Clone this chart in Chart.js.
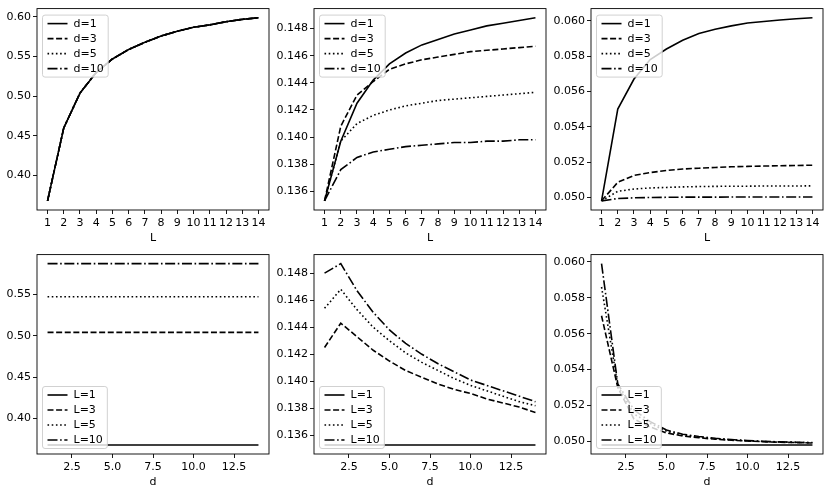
<!DOCTYPE html>
<html>
<head>
<meta charset="utf-8">
<script src="https://cdn.jsdelivr.net/npm/chart.js@4.4.1/dist/chart.umd.min.js"></script>
<style>
  body { margin: 0; background: #fff; }
  #fig { position: relative; width: 830px; height: 492px; overflow: hidden; background: #fff; }
  #fig canvas { position: absolute; }
</style>
</head>
<body>
<div id="fig"></div>
<script>
// x values (same for both rows)
const Ls = [1, 2, 3, 4, 5, 6, 7, 8, 9, 10, 11, 12, 13, 14];
const ds = [1, 2, 3, 4, 5, 6, 7, 8, 9, 10, 11, 12, 13, 14];

const dLabels = ['d=1', 'd=3', 'd=5', 'd=10'];
const LLabels = ['L=1', 'L=3', 'L=5', 'L=10'];

// x tick labels
const xTicksL = [1, 2, 3, 4, 5, 6, 7, 8, 9, 10, 11, 12, 13, 14];
const xTicksD = [2.5, 5.0, 7.5, 10.0, 12.5];

// top-left: every d gives the same curve
const tlCurve = [0.368, 0.460, 0.504, 0.530, 0.547, 0.559, 0.568, 0.576, 0.582, 0.587, 0.590, 0.594, 0.597, 0.599];
const tlTicks = [0.40, 0.45, 0.50, 0.55, 0.60];

// top-middle
const tm_d1 = [0.1353, 0.1397, 0.1425, 0.1442, 0.1454, 0.1462, 0.1468, 0.1472, 0.1476, 0.1479, 0.1482, 0.1484, 0.1486, 0.1488];
const tm_d3 = [0.1353, 0.1408, 0.1431, 0.1441, 0.1450, 0.1454, 0.1457, 0.1459, 0.1461, 0.1463, 0.1464, 0.1465, 0.1466, 0.1467];
const tm_d5 = [0.1353, 0.1397, 0.1410, 0.1416, 0.1420, 0.1423, 0.1425, 0.1427, 0.1428, 0.1429, 0.1430, 0.1431, 0.1432, 0.1433];
const tm_d10 = [0.1353, 0.1376, 0.1385, 0.1389, 0.1391, 0.1393, 0.1394, 0.1395, 0.1396, 0.1396, 0.1397, 0.1397, 0.1398, 0.1398];
const midTicks = [0.136, 0.138, 0.140, 0.142, 0.144, 0.146, 0.148];

// top-right
const tr_d1 = [0.0498, 0.0550, 0.0567, 0.0578, 0.0584, 0.0589, 0.05928, 0.05952, 0.05971, 0.05987, 0.05996, 0.06004, 0.06011, 0.06017];
const tr_d3 = [0.0498, 0.05085, 0.05124, 0.0514, 0.05152, 0.0516, 0.05165, 0.05169, 0.05173, 0.05175, 0.05177, 0.05179, 0.0518, 0.05182];
const tr_d5 = [0.0498, 0.05034, 0.05047, 0.05053, 0.05056, 0.05059, 0.05061, 0.05062, 0.05063, 0.05063, 0.05064, 0.05064, 0.05064, 0.05065];
const tr_d10 = [0.0498, 0.04993, 0.04997, 0.04999, 0.05, 0.05001, 0.05001, 0.05001, 0.05002, 0.05002, 0.05002, 0.05002, 0.05002, 0.05002];
const rightTicks = [0.050, 0.052, 0.054, 0.056, 0.058, 0.060];

// bottom-left: flat in d
const bl_L1 = [0.368, 0.368, 0.368, 0.368, 0.368, 0.368, 0.368, 0.368, 0.368, 0.368, 0.368, 0.368, 0.368, 0.368];
const bl_L3 = [0.504, 0.504, 0.504, 0.504, 0.504, 0.504, 0.504, 0.504, 0.504, 0.504, 0.504, 0.504, 0.504, 0.504];
const bl_L5 = [0.547, 0.547, 0.547, 0.547, 0.547, 0.547, 0.547, 0.547, 0.547, 0.547, 0.547, 0.547, 0.547, 0.547];
const bl_L10 = [0.587, 0.587, 0.587, 0.587, 0.587, 0.587, 0.587, 0.587, 0.587, 0.587, 0.587, 0.587, 0.587, 0.587];
const blTicks = [0.40, 0.45, 0.50, 0.55];

// bottom-middle
const bm_L1 = [0.1353, 0.1353, 0.1353, 0.1353, 0.1353, 0.1353, 0.1353, 0.1353, 0.1353, 0.1353, 0.1353, 0.1353, 0.1353, 0.1353];
const bm_L3 = [0.1425, 0.1443, 0.1433, 0.1423, 0.1415, 0.1408, 0.1403, 0.1398, 0.1394, 0.1391, 0.1387, 0.1384, 0.1381, 0.1377];
const bm_L5 = [0.1454, 0.1468, 0.1453, 0.1440, 0.1430, 0.1421, 0.1414, 0.1408, 0.1402, 0.1397, 0.1393, 0.1389, 0.1385, 0.1382];
const bm_L10 = [0.1480, 0.1487, 0.1467, 0.1451, 0.1438, 0.1428, 0.1420, 0.1413, 0.1407, 0.1401, 0.1397, 0.1393, 0.1389, 0.1385];

// bottom-right
const br_L1 = [0.0498, 0.0498, 0.0498, 0.0498, 0.0498, 0.0498, 0.0498, 0.0498, 0.0498, 0.0498, 0.0498, 0.0498, 0.0498, 0.0498];
const br_L3 = [0.0570, 0.0530, 0.05124, 0.0508, 0.05047, 0.0503, 0.0502, 0.05012, 0.05006, 0.05002, 0.04998, 0.04995, 0.04993, 0.04991];
const br_L5 = [0.0586, 0.0531, 0.05152, 0.0510, 0.05056, 0.05036, 0.05024, 0.05015, 0.05008, 0.05003, 0.04999, 0.04996, 0.04994, 0.04992];
const br_L10 = [0.0599, 0.0532, 0.05175, 0.0511, 0.05063, 0.0504, 0.05027, 0.05017, 0.0501, 0.05004, 0.05, 0.04997, 0.04995, 0.04993];

const FONT = { family: '"DejaVu Sans", sans-serif', size: 11 };
const LW = 1.6;
const dashes = [[], [6, 2.6], [1.6, 2.6], [10, 2.6, 1.6, 2.6]];

// axes boxes in page pixels
const colLeft = [37, 314, 591];
const rowTop = [5, 251];
const axW = 232;
const rowH = [205, 203];

const panels = [
  { row: 0, col: 0, x: Ls, ys: [tlCurve, tlCurve, tlCurve, tlCurve], labels: dLabels, xTicks: xTicksL, xDec: 0, yTicks: tlTicks, yDec: 2, title: 'L', corner: 'top' },
  { row: 0, col: 1, x: Ls, ys: [tm_d1, tm_d3, tm_d5, tm_d10], labels: dLabels, xTicks: xTicksL, xDec: 0, yTicks: midTicks, yDec: 3, title: 'L', corner: 'top' },
  { row: 0, col: 2, x: Ls, ys: [tr_d1, tr_d3, tr_d5, tr_d10], labels: dLabels, xTicks: xTicksL, xDec: 0, yTicks: rightTicks, yDec: 3, title: 'L', corner: 'top' },
  { row: 1, col: 0, x: ds, ys: [bl_L1, bl_L3, bl_L5, bl_L10], labels: LLabels, xTicks: xTicksD, xDec: 1, yTicks: blTicks, yDec: 2, title: 'd', corner: 'bottom' },
  { row: 1, col: 1, x: ds, ys: [bm_L1, bm_L3, bm_L5, bm_L10], labels: LLabels, xTicks: xTicksD, xDec: 1, yTicks: midTicks, yDec: 3, title: 'd', corner: 'bottom' },
  { row: 1, col: 2, x: ds, ys: [br_L1, br_L3, br_L5, br_L10], labels: LLabels, xTicks: xTicksD, xDec: 1, yTicks: rightTicks, yDec: 3, title: 'd', corner: 'bottom' }
];

// axes frame + matplotlib-like legend inside the plot
const frameAndLegend = {
  id: 'frameAndLegend',
  afterDatasetsDraw(chart, args, opts) {
    const { ctx, chartArea: a } = chart;
    ctx.save();
    ctx.strokeStyle = '#000';
    ctx.lineWidth = 0.9;
    ctx.strokeRect(a.left, a.top, a.right - a.left, a.bottom - a.top);

    ctx.font = FONT.size + 'px ' + FONT.family;
    const sets = chart.data.datasets;
    const textW = Math.max(...sets.map(s => ctx.measureText(s.label).width));
    const w = 5 + 20 + 6 + textW + 4.5, h = 62;
    const x = a.left + 5.5;
    const y = opts.corner === 'top' ? a.top + 6.5 : a.bottom - 5.5 - h;
    ctx.beginPath();
    ctx.roundRect(x, y, w, h, 2.5);
    ctx.fillStyle = 'rgba(255,255,255,0.8)';
    ctx.fill();
    ctx.strokeStyle = '#cccccc';
    ctx.lineWidth = 0.9;
    ctx.stroke();

    sets.forEach((s, i) => {
      const cy = y + 8.5 + 15 * i;
      ctx.beginPath();
      ctx.setLineDash(s.borderDash);
      ctx.lineWidth = s.borderWidth;
      ctx.strokeStyle = s.borderColor;
      ctx.moveTo(x + 5, cy);
      ctx.lineTo(x + 25, cy);
      ctx.stroke();
      ctx.setLineDash([]);
      ctx.fillStyle = '#000';
      ctx.textBaseline = 'middle';
      ctx.textAlign = 'left';
      ctx.fillText(s.label, x + 31, cy + 0.5);
    });
    ctx.restore();
  }
};

const fig = document.getElementById('fig');

panels.forEach(p => {
  const axLeft = colLeft[p.col], axTop = rowTop[p.row], axH = rowH[p.row];
  const YW = p.col === 0 ? axLeft : 45;
  const cv = document.createElement('canvas');
  cv.width = YW + axW + 6;
  cv.height = 5 + axH + 40;
  cv.style.left = (axLeft - YW) + 'px';
  cv.style.top = (axTop - 5) + 'px';
  fig.appendChild(cv);

  const all = p.ys.flat();
  const lo = Math.min(...all), hi = Math.max(...all);
  const m = (hi - lo) * 0.05;
  const xm = (p.x[p.x.length - 1] - p.x[0]) * 0.05;

  new Chart(cv, {
    type: 'line',
    data: {
      datasets: p.ys.map((ys, i) => ({
        label: p.labels[i],
        data: p.x.map((xv, j) => ({ x: xv, y: ys[j] })),
        borderColor: '#000',
        borderWidth: LW,
        borderDash: dashes[i],
        pointRadius: 0,
        tension: 0,
        fill: false
      }))
    },
    options: {
      responsive: false,
      animation: false,
      events: [],
      layout: { padding: { left: 0, top: 5, right: 6, bottom: 0 } },
      plugins: {
        legend: { display: false },
        tooltip: { enabled: false },
        frameAndLegend: { corner: p.corner }
      },
      scales: {
        x: {
          type: 'linear',
          min: p.x[0] - xm,
          max: p.x[p.x.length - 1] + xm,
          afterBuildTicks: s => { s.ticks = p.xTicks.map(v => ({ value: v })); },
          afterFit: s => { s.height = 40; },
          ticks: {
            autoSkip: false, maxRotation: 0, padding: 3, color: '#000', font: FONT,
            callback: v => v.toFixed(p.xDec)
          },
          grid: { drawOnChartArea: false, drawTicks: true, tickLength: 4, color: '#000', lineWidth: 0.9 },
          border: { display: false },
          title: { display: true, text: p.title, color: '#000', font: FONT, padding: { top: 0, bottom: 5.4 } }
        },
        y: {
          min: lo - m,
          max: hi + m,
          afterBuildTicks: s => { s.ticks = p.yTicks.map(v => ({ value: v })); },
          afterFit: s => { s.width = YW; },
          ticks: {
            autoSkip: false, padding: 2, color: '#000', font: FONT,
            callback: v => v.toFixed(p.yDec)
          },
          grid: { drawOnChartArea: false, drawTicks: true, tickLength: 4, color: '#000', lineWidth: 0.9 },
          border: { display: false }
        }
      }
    },
    plugins: [frameAndLegend]
  });
});
</script>
</body>
</html>
